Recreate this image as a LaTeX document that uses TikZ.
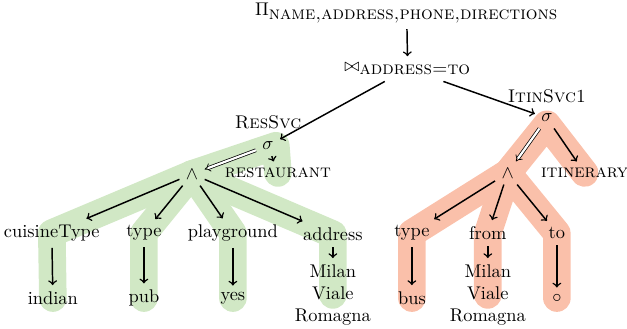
\documentclass[tikz,border=0pt]{standalone}
\usepackage{amsmath}
\usepackage{xcolor}
\usetikzlibrary{arrows, positioning, backgrounds}
\definecolor{resgreen}{RGB}{209,232,197}
\definecolor{itinsalmon}{RGB}{250,192,170}

\begin{document}
\begin{tikzpicture}[
    edge/.style={->, thick},
    impl/.style={double, double distance=1.2pt, -implies},
    band/.style={line width=15pt, line cap=round, line join=round}
]
\useasboundingbox (0,0) rectangle (11.98,6.285);

\node (proj) at (7.77,6.04) {$\Pi_{\mbox{\textsc{name,address,phone,directions}}}$};
\node (join) at (7.79,4.97) {$\bowtie_{\mbox{\textsc{address=to}}}$};

% restaurant service
\node (sigL) at (5.12,3.50) {$\sigma$};
\node[above=0pt of sigL] (resname) {\textsc{ResSvc}};
\node (andL) at (3.67,2.96) {$\wedge$};
\node (restaurant) at (5.31,2.98) {\textsc{restaurant}};
\node (cuisineType) at (0.99,1.83) {cuisineType};
\node (typeL) at (2.75,1.83) {type};
\node (playground) at (4.45,1.83) {playground};
\node (address) at (6.36,1.81) {address};
\node (indian) at (1.01,0.59) {indian};
\node (pub) at (2.75,0.59) {pub};
\node (yes) at (4.45,0.59) {yes};
\node[align=center] (addrval) at (6.36,0.65) {Milan\\Viale\\Romagna};

% itinerary service
\node (sigR) at (10.45,4.03) {$\sigma$};
\node[above=-1pt of sigR] (itinname) {\textsc{ItinSvc1}};
\node (andR) at (9.70,2.98) {$\wedge$};
\node (itinerary) at (11.17,2.98) {\textsc{itinerary}};
\node (typeR) at (7.87,1.83) {type};
\node (from) at (9.32,1.83) {from};
\node (to) at (10.64,1.83) {to};
\node (bus) at (7.87,0.59) {bus};
\node[align=center] (fromval) at (9.32,0.65) {Milan\\Viale\\Romagna};
\node (circ) at (10.64,0.59) {$\circ$};

% highlighted services
\begin{scope}[on background layer]
\draw[band, resgreen] (indian.center) -- (cuisineType.center) -- (andL.center)
    -- ([xshift=0.15cm]sigL.center) -- (restaurant.center);
\foreach \c/\v in {typeL/pub, playground/yes, address/addrval}
    \draw[band, resgreen] (andL.center) -- (\c.center) -- (\v.center);
\draw[band, itinsalmon] (bus.center) -- (typeR.center) -- (andR.center)
    -- ([yshift=-0.12cm]sigR.center) -- (itinerary.center);
\foreach \c/\v in {from/fromval, to/circ}
    \draw[band, itinsalmon] (andR.center) -- (\c.center) -- (\v.center);
\end{scope}

\draw[edge] (proj) -- (join);
\draw[edge] (join) -- (sigL);
\draw[edge] (join) -- (sigR);

\draw[impl] (sigL) -- (andL);
\draw[edge] (sigL) -- (restaurant);
\foreach \c in {cuisineType, typeL, playground, address}
    \draw[edge] (andL) -- (\c);

\draw[impl] (sigR) -- (andR);
\draw[edge] (sigR) -- (itinerary);
\foreach \c in {typeR, from, to}
    \draw[edge] (andR) -- (\c);

\foreach \c/\v in {cuisineType/indian, typeL/pub, playground/yes, address/addrval,
                   typeR/bus, from/fromval, to/circ}
    \draw[edge] (\c) -- (\v);
\end{tikzpicture}
\end{document}
